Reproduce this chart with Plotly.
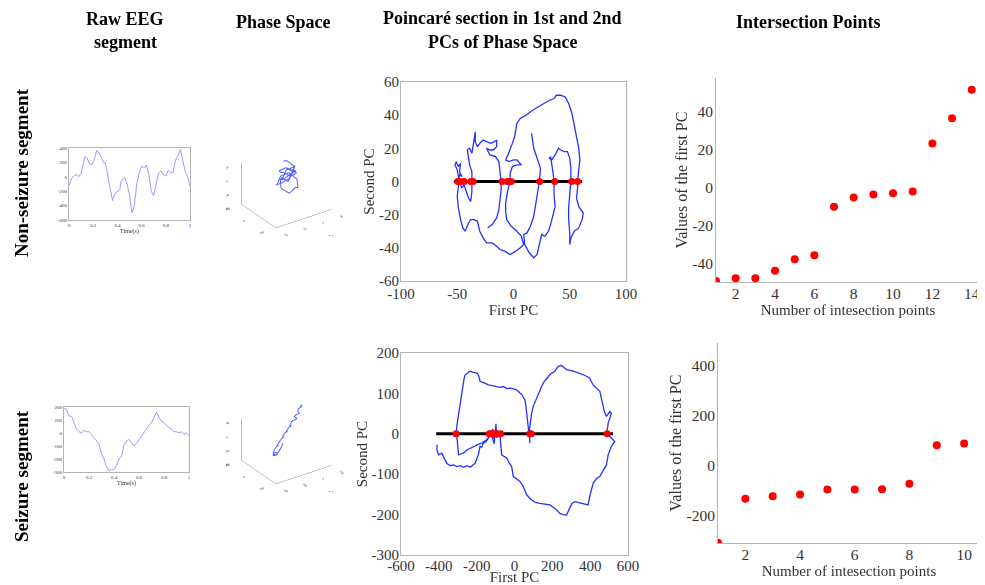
import plotly.graph_objects as go

# ---------------- DATA ----------------
eeg_t = [0, 0.02, 0.04, 0.06, 0.08, 0.10, 0.12, 0.13, 0.15, 0.17, 0.19, 0.21, 0.23, 0.25, 0.27, 0.29,
         0.30, 0.31, 0.33, 0.35, 0.36, 0.38, 0.40, 0.42, 0.43, 0.45, 0.46, 0.48, 0.50, 0.52, 0.54, 0.56,
         0.58, 0.60, 0.62, 0.64, 0.66, 0.68, 0.70, 0.72, 0.74, 0.76, 0.78, 0.80, 0.82, 0.84, 0.86, 0.88,
         0.90, 0.92, 0.94, 0.96, 0.98, 1.0]
eeg1_v = [-130, -20, 10, 30, 0, 50, 200, 280, 260, 180, 170, 250, 370, 330, 250, 190,
          200, 110, -30, -200, -330, -230, -200, -180, -60, -30, -10, -100, -250, -500, -400, -100,
          50, 150, 120, 160, 30, -200, -260, -100, 50, 80, 30, 10, 90, 60, 60, 230,
          290, 380, 240, 80, 0, -130]

eeg2_t = [0, 0.02, 0.04, 0.06, 0.08, 0.10, 0.12, 0.14, 0.16, 0.18, 0.20, 0.22, 0.24, 0.26, 0.28, 0.30,
          0.32, 0.34, 0.36, 0.38, 0.40, 0.42, 0.44, 0.46, 0.48, 0.50, 0.52, 0.54, 0.56, 0.58, 0.60, 0.62,
          0.64, 0.66, 0.68, 0.70, 0.72, 0.74, 0.76, 0.78, 0.80, 0.82, 0.84, 0.86, 0.88, 0.90, 0.92, 0.94,
          0.96, 0.98, 1.0]
eeg2_v = [190, 180, 130, 130, 80, 30, 10, 0, 20, 10, 10, -10, -40, -60, -90, -160,
          -200, -260, -290, -280, -280, -250, -200, -180, -90, -60, -50, -80, -100, -80, -50, -30,
          10, 30, 60, 80, 120, 160, 120, 90, 80, 60, 40, 30, 10, 10, 0, 10,
          -10, 0, -20]

# phase space trajectories (X, Y, Z)
ps1_x = [-20, -5, 5, 0, -15, -30, -40, -35, -20, -5, 8, 2, -12, -25, -38, -45, -32, -18, -2, 10, 4, -10, -22, -35, -28, -15, 0, 5, -8, -22, -32, -40, -30, -16, -4, 2, -10, -25]
ps1_y = [30, 40, 25, 5, -10, -20, -5, 15, 35, 45, 30, 10, -5, -15, 0, 20, 40, 50, 35, 15, -5, -20, -10, 10, 30, 45, 30, 10, -10, -25, -10, 10, 25, 35, 20, 0, -15, 0]
ps1_z = [50, 40, 24, 34, 18, 2, 14, -4, -16, 4, 16, 32, 20, 8, -8, -22, -34, -14, -2, -22, -42, -28, -48, -34, -14, -26, -6, 12, 28, 38, 48, 32, 16, 4, -8, 10, 28, 40]

ps2_x = [190, 170, 180, 140, 120, 130, 90, 60, 80, 40, 10, -20, 0, -40, -80, -60, -100, -140, -120, -160, -200, -230, -210, -250, -280, -300, -290, -260, -240, -270, -300, -310, -280, -250, -220, -190, -170, -150]
ps2_y = [350, 320, 300, 310, 260, 240, 250, 210, 180, 190, 150, 120, 130, 90, 60, 80, 40, 10, 20, -20, -50, -80, -60, -100, -130, -150, -170, -140, -110, -130, -160, -180, -150, -120, -90, -70, -50, -30]
ps2_z = [195, 172, 195, 162, 152, 134, 116, 126, 98, 80, 90, 62, 44, 54, 26, 8, 18, -10, -28, -18, -44, -62, -80, -70, -96, -120, -146, -162, -152, -134, -124, -142, -166, -174, -156, -130, -112, -86]

# Poincare section: first/second PC trajectories
pc1_x = [16, 17, 18, 21, 24, 23, 21, 19, 18, 15, 12, 9, 10, 14, 18, 21, 23, 25, 28, 31, 33, 35, 37, 36, 36, 35, 34, 33, 32, 34, 37, 40, 42, 45, 48, 50, 51, 51, 50, 49, 49, 50, 50, 51, 54, 58, 61, 62, 58, 56, 57, 57, 58, 59, 58, 56, 54, 52, 49, 46, 42, 38, 36, 32, 27, 22, 17, 11, 6, 3, 2, 1, -1, -3, -5, -7, -4, 0, 3, 7, 3, -1, -3, -3, -5, -7, -7, -6, -2, 3, 7, 9, 6, 2, -3, -8, -12, -15, -19, -24, -27, -30, -32, -35, -38, -40, -43, -45, -47, -49, -50, -49, -49, -48, -46, -48, -47, -49, -51, -52, -50, -49, -47, -46, -44, -42, -40, -38, -37, -37, -37, -39, -40, -41, -39, -37, -36, -35, -34, -34, -32, -30, -27, -24, -20, -17, -15, -15, -18, -21, -24, -21, -16, -13, -12, -11, -11, -12, -13, -15, -19, -23]
pc1_y = [29, 25, 20, 14, 8, 0, -8, -15, -21, -27, -31, -32, -38, -43, -46, -44, -37, -32, -33, -30, -26, -20, -15, -8, 0, 6, 11, 15, 14, 13, 16, 20, 19, 18, 18, 14, 8, 0, -8, -16, -23, -31, -38, -34, -30, -28, -23, -19, -15, -10, -4, 0, 7, 13, 20, 27, 34, 41, 47, 51, 52, 52, 50, 49, 47, 45, 43, 40, 38, 35, 31, 27, 23, 19, 16, 13, 12, 13, 13, 10, 10, 9, 5, 0, -5, -13, -18, -23, -27, -30, -33, -38, -40, -42, -44, -42, -41, -39, -37, -37, -34, -30, -24, -23, -23, -25, -30, -28, -23, -16, -9, -3, 0, 4, 3, 6, 11, 9, 12, 10, 7, 3, -1, -4, -2, -6, -10, -12, -6, 0, 6, 10, 14, 19, 20, 17, 21, 26, 30, 24, 21, 23, 25, 24, 23, 24, 25, 21, 19, 19, 20, 16, 15, 12, 6, 0, -5, -11, -17, -22, -26, -28]

pc2_x = [-410, -410, -401, -384, -370, -358, -340, -322, -305, -287, -270, -252, -235, -220, -208, -198, -191, -182, -173, -164, -150, -138, -129, -120, -112, -118, -108, -102, -98, -94, -90, -84, -76, -72, -68, -55, -41, -28, -15, -6, 10, 29, 47, 64, 90, 112, 134, 160, 187, 213, 240, 258, 275, 292, 305, 319, 340, 363, 389, 398, 405, 416, 435, 451, 470, 486, 495, 505, 512, 530, 517, 504, 486, 492, 495, 505, 512, 504, 486, 475, 468, 459, 455, 451, 435, 416, 405, 398, 370, 346, 330, 310, 290, 275, 260, 249, 231, 213, 190, 170, 155, 143, 130, 117, 108, 99, 90, 85, 80, 78, 82, 76, 72, 64, 60, 55, 45, 38, 25, 11, -5, -24, -40, -59, -75, -94, -115, -138, -160, -182, -190, -199, -218, -235, -250, -261, -266, -270, -275, -282, -287, -292, -296, -300, -305, -308, -303, -301, -298, -296, -285, -270, -252, -235, -215, -199, -186, -173, -160, -147, -136, -128, -115, -110, -104]
pc2_y = [-27, -40, -52, -48, -62, -73, -79, -77, -81, -79, -83, -79, -83, -78, -73, -60, -52, -31, -33, -23, -19, -11, -2, 6, 10, -8, -25, 5, 25, -10, 8, -5, -7, -30, -52, -56, -60, -72, -81, -106, -112, -118, -131, -151, -164, -170, -172, -174, -176, -184, -197, -200, -201, -184, -172, -168, -170, -172, -176, -155, -140, -122, -110, -106, -90, -77, -52, -40, -31, -19, -12, -7, 2, 15, 26, 40, 51, 55, 43, 55, 68, 84, 95, 105, 112, 121, 130, 138, 145, 150, 152, 155, 157, 159, 165, 169, 167, 155, 148, 138, 128, 117, 102, 88, 78, 68, 50, 35, 18, 6, -23, 5, 30, 55, 70, 84, 92, 97, 103, 109, 111, 113, 112, 117, 115, 117, 119, 121, 126, 130, 145, 150, 152, 155, 150, 146, 138, 126, 110, 95, 84, 70, 51, 35, 18, 0, -15, -31, -45, -52, -50, -48, -40, -36, -30, -27, -25, -23, -20, -15, -8, -3, 12, -12, -3]

# section line extents and crossing points
sec1_x = [-53, 61]
sec2_x = [-414, 521]
cross1_x = [-49.5, -48, -48, -44, -38, -36, -10.2, -5.3, -3.7, -3, -2.1, 23.3, 36.7, 51.8, 57]
cross2_x = [-309, -133, -123, -116, -96, -96, -95, -73, 81, 88, 490]

# intersection points (sorted first-PC values)
int1_n = list(range(1, 15))
int1_v = [-49.5, -48, -48, -44, -38, -35.9, -10.2, -5.3, -3.7, -3, -2.1, 23.3, 36.7, 51.8]
int2_n = list(range(1, 11))
int2_v = [-309, -133, -123, -116, -96, -96, -95, -73, 81, 88]

# ---------------- FIGURE ----------------
OFF = 8                      # page body margin of the HTML document
W, H = 985 - OFF, 585 - OFF  # figure size that fits the window
def fx(p): return (p - OFF) / W
def fy(p): return 1 - (p - OFF) / H

SERIF = "Liberation Serif, Times New Roman, serif"
GREY = "#b4b4b4"
TXT = "#333333"

fig = go.Figure()

fig.add_trace(go.Scatter(x=eeg_t, y=eeg1_v, mode="lines", line=dict(color="#8080ff", width=0.8),
                         xaxis="x", yaxis="y", showlegend=False))
fig.add_trace(go.Scatter(x=eeg2_t, y=eeg2_v, mode="lines", line=dict(color="#8080ff", width=0.8),
                         xaxis="x2", yaxis="y2", showlegend=False))

for ax, px_, py_, sx, cx in [("3", pc1_x, pc1_y, sec1_x, cross1_x), ("4", pc2_x, pc2_y, sec2_x, cross2_x)]:
    fig.add_trace(go.Scatter(x=px_, y=py_, mode="lines", line=dict(color="#2233ff", width=1.3),
                             xaxis="x" + ax, yaxis="y" + ax, showlegend=False))
    fig.add_trace(go.Scatter(x=sx, y=[0] * len(sx), mode="lines", line=dict(color="black", width=3),
                             xaxis="x" + ax, yaxis="y" + ax, showlegend=False))
    fig.add_trace(go.Scatter(x=cx, y=[0] * len(cx), mode="markers", marker=dict(color="red", size=7),
                             xaxis="x" + ax, yaxis="y" + ax, showlegend=False))

fig.add_trace(go.Scatter(x=int1_n, y=int1_v, mode="markers", marker=dict(color="red", size=8),
                         xaxis="x5", yaxis="y5", showlegend=False))
fig.add_trace(go.Scatter(x=int2_n, y=int2_v, mode="markers", marker=dict(color="red", size=8),
                         xaxis="x6", yaxis="y6", showlegend=False))

fig.add_trace(go.Scatter3d(x=ps1_x, y=ps1_y, z=ps1_z, mode="lines", line=dict(color="#5060ff", width=2),
                           scene="scene", showlegend=False))
fig.add_trace(go.Scatter3d(x=ps2_x, y=ps2_y, z=ps2_z, mode="lines", line=dict(color="#5060ff", width=2),
                           scene="scene2", showlegend=False))


def lab(v):
    return str(v)


def box_axes(x0, x1, y0, y1, xr, yr, xt, yt, fs, mirror=True, xtitle=None, ytitle=None,
             xtfs=None, ytfs=None, xshift=0, yshift=0):
    common = dict(showline=True, linecolor=GREY, linewidth=1, mirror=mirror, showgrid=False,
                  zeroline=False, ticks="", automargin=False,
                  tickfont=dict(family=SERIF, size=fs, color=TXT))
    xa = dict(domain=[fx(x0), fx(x1)], range=xr, tickvals=xt, ticktext=[lab(v) for v in xt],
              ticklabelstandoff=xshift, **common)
    ya = dict(domain=[fy(y1), fy(y0)], range=yr, tickvals=yt, ticktext=[lab(v) for v in yt],
              ticklabelstandoff=yshift, **common)
    if xtitle:
        xa["title"] = dict(text=xtitle, font=dict(family=SERIF, size=xtfs or fs, color=TXT), standoff=0)
    if ytitle:
        ya["title"] = dict(text=ytitle, font=dict(family=SERIF, size=ytfs or fs, color=TXT), standoff=0)
    return xa, ya


lay = {}
xa, ya = box_axes(69, 190, 148, 220, [0, 1], [-600, 400], [0, 0.2, 0.4, 0.6, 0.8, 1],
                  [-600, -400, -200, 0, 200, 400], 5, xtitle="Time(s)", xtfs=6)
xa["anchor"] = "y"; ya["anchor"] = "x"
lay["xaxis"], lay["yaxis"] = xa, ya

xa, ya = box_axes(64, 189, 407, 472, [0, 1], [-300, 200], [0, 0.2, 0.4, 0.6, 0.8, 1],
                  [-300, -200, -100, 0, 100, 200], 5, xtitle="Time(s)", xtfs=6)
xa["anchor"] = "y2"; ya["anchor"] = "x2"
lay["xaxis2"], lay["yaxis2"] = xa, ya

xa, ya = box_axes(401, 626, 82, 281, [-100, 100], [-60, 60], [-100, -50, 0, 50, 100],
                  [-60, -40, -20, 0, 20, 40, 60], 15, xtitle="First PC", ytitle="Second PC",
                  xshift=-1, yshift=-2)
xa["anchor"] = "y3"; ya["anchor"] = "x3"
lay["xaxis3"], lay["yaxis3"] = xa, ya

xa, ya = box_axes(401, 628, 353, 555, [-600, 600], [-300, 200], [-600, -400, -200, 0, 200, 400, 600],
                  [-300, -200, -100, 0, 100, 200], 15, xtitle="First PC", ytitle="Second PC",
                  xshift=-3, yshift=-2)
xa["anchor"] = "y4"; ya["anchor"] = "x4"
lay["xaxis4"], lay["yaxis4"] = xa, ya

xa, ya = box_axes(716, 980, 78, 282, [1, 14.42], [-50, 58], [2, 4, 6, 8, 10, 12, 14],
                  [-40, -20, 0, 20, 40], 15.5, mirror=False,
                  xtitle="Number of intesection points", ytitle="Values of the first PC", xtfs=15, ytfs=16,
                  xshift=-3, yshift=-1)
xa["anchor"] = "y5"; ya["anchor"] = "x5"
lay["xaxis5"], lay["yaxis5"] = xa, ya

xa, ya = box_axes(718, 980, 343, 543, [1, 10.58], [-310, 490], [2, 4, 6, 8, 10],
                  [-200, 0, 200, 400], 15.5, mirror=False,
                  xtitle="Number of intesection points", ytitle="Values of the first PC", xtfs=15, ytfs=16,
                  xshift=-3, yshift=-1)
xa["anchor"] = "y6"; ya["anchor"] = "x6"
lay["xaxis6"], lay["yaxis6"] = xa, ya


def scene_axis(rng, tv, title):
    return dict(range=rng, tickvals=tv, ticktext=[lab(v) for v in tv], showbackground=False,
                showgrid=False, zeroline=False, showline=True, linecolor="#888888", linewidth=1,
                ticks="", showspikes=False, tickfont=dict(family=SERIF, size=6, color=TXT),
                title=dict(text=title, font=dict(family=SERIF, size=7, color=TXT)))


cam = dict(eye=dict(x=-0.845, y=-1.217, z=0.811), up=dict(x=0, y=0, z=1),
           projection=dict(type="orthographic"))
asp = dict(x=1.35, y=1.2, z=0.95)
lay["scene"] = dict(domain=dict(x=[fx(226), fx(347)], y=[fy(236), fy(136)]),
                    xaxis=scene_axis([-100, 50], [-100, -50, 0, 50], "X"),
                    yaxis=scene_axis([-100, 100], [-100, 0, 100], "Y"),
                    zaxis=scene_axis([-100, 50], [-100, -50, 0, 50], "Z"),
                    aspectmode="manual", aspectratio=asp, camera=cam)
lay["scene2"] = dict(domain=dict(x=[fx(226), fx(347)], y=[fy(492), fy(392)]),
                     xaxis=scene_axis([-400, 200], [-400, -200, 0, 200], "X"),
                     yaxis=scene_axis([-500, 500], [-500, 0, 500], "Y"),
                     zaxis=scene_axis([-400, 200], [-400, -200, 0, 200], "Z"),
                     aspectmode="manual", aspectratio=asp, camera=cam)

hdr = dict(family=SERIF, size=18, color="black")
ann = [
    dict(text="<b>Raw EEG</b>", x=fx(125), y=fy(19)),
    dict(text="<b>segment</b>", x=fx(125), y=fy(42)),
    dict(text="<b>Phase Space</b>", x=fx(283), y=fy(22)),
    dict(text="<b>Poincaré section in 1st and 2nd</b>", x=fx(503), y=fy(18)),
    dict(text="<b>PCs of Phase Space</b>", x=fx(503), y=fy(42)),
    dict(text="<b>Intersection Points</b>", x=fx(808), y=fy(22)),
    dict(text="<b>Non-seizure segment</b>", x=fx(21), y=fy(173), textangle=-90, font=dict(family=SERIF, size=19, color="black")),
    dict(text="<b>Seizure segment</b>", x=fx(21), y=fy(476), textangle=-90, font=dict(family=SERIF, size=19, color="black")),
]
for a in ann:
    a.setdefault("font", hdr)
    a.update(xref="paper", yref="paper", showarrow=False, xanchor="center", yanchor="middle")

fig.update_layout(template="none", width=W, height=H, margin=dict(l=0, r=0, t=0, b=0, pad=0),
                  paper_bgcolor="white", plot_bgcolor="white", annotations=ann, **lay)

fig.write_html("out.html")
